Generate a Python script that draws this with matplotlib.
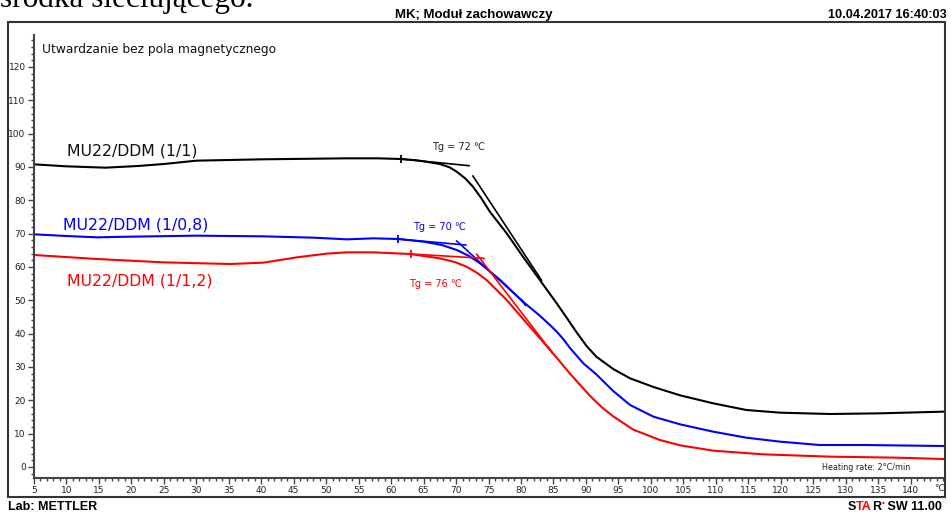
import matplotlib.pyplot as plt
from matplotlib.patches import Rectangle
from matplotlib.ticker import MultipleLocator

# curves: temperature [degC], modulus [MPa]
t_black = [5, 10, 16, 21, 25, 30, 40, 53, 58, 61.5, 64, 66, 67.5, 69, 70.1, 71.4, 72.6, 73.9, 75.2,
           77.8, 80.3, 82.9, 85.5, 87.2, 88.6, 90.1, 91.6, 94.2, 96.8, 100.4, 104.5, 109.6, 114.7,
           119.9, 127.6, 135.3, 145]
v_black = [90.8, 90.2, 89.8, 90.3, 90.9, 91.9, 92.3, 92.6, 92.6, 92.4, 92.0, 91.4, 90.9, 89.9, 88.6, 86.6, 84.1,
           80.6, 76.6, 70.1, 63.1, 56.1, 49.1, 44.3, 40.3, 36.3, 33.1, 29.4, 26.6, 24.0, 21.5, 19.1, 17.1,
           16.3, 15.9, 16.1, 16.6]

t_blue = [5, 10, 14.7, 19.8, 30, 40.3, 48, 53.2, 57.3, 61.1, 65, 67.8, 70.1, 72, 73.7, 76.8, 80.3,
          82.9, 84.5, 85.5, 86.5, 87.5, 89.6, 91.6, 94.2, 96.8, 100.4, 104.5, 109.6, 114.7, 119.9,
          126, 132.7, 145]
v_blue = [69.8, 69.3, 68.9, 69.1, 69.4, 69.2, 68.8, 68.3, 68.6, 68.4, 67.6, 66.6, 65.1, 63.3, 61.1, 56.1, 49.6,
          45.4, 42.5, 40.6, 38.4, 35.8, 31.1, 27.8, 22.8, 18.6, 15.1, 12.8, 10.6, 8.8, 7.6,
          6.6, 6.6, 6.3]

t_red = [5, 14.7, 24.9, 35.2, 40.3, 45.5, 50, 53.2, 57.3, 62.9, 67.5, 69.8, 71.6, 73.2, 74.7, 77.8,
         80.9, 84.5, 87.5, 90.6, 92.4, 94.2, 97.3, 101.4, 104.5, 109.6, 117.3, 127.6, 137.9, 145]
v_red = [63.6, 62.4, 61.4, 60.9, 61.3, 62.9, 64.0, 64.4, 64.4, 63.9, 62.6, 61.5, 60.1, 58.3, 56.1, 50.1,
         43.1, 35.1, 28.1, 21.4, 18.0, 15.2, 11.2, 8.1, 6.5, 4.9, 3.8, 3.1, 2.8, 2.4]

# tangent lines (start, end) for Tg evaluation
tan_black = [([61.5, 72.0], [92.4, 90.4]), ([72.6, 82.8], [87.3, 57.1])]
tan_blue = [([61.1, 71.5], [68.4, 66.6]), ([70.1, 80.3], [67.8, 49.6])]
tan_red = [([63.0, 74.3], [63.9, 62.6]), ([73.2, 84.5], [63.8, 35.1])]

labels = ["MU22/DDM (1/1)", "MU22/DDM (1/0,8)", "MU22/DDM (1/1,2)"]
tg_labels = ["Tg = 72 \u2103", "Tg = 70 \u2103", "Tg = 76 \u2103"]

W, H = 951, 516
fig = plt.figure(figsize=(W / 100, H / 100), dpi=100)
plt.rcParams['font.family'] = ['DejaVu Sans']


def fx(px):
    return px / W


def fy(py):
    return 1 - py / H


ax = fig.add_axes([fx(34), fy(478), fx(945) - fx(34), fy(35) - fy(478)])
ax.set_xlim(5, 145.3)
ax.set_ylim(-3.3, 129.6)

for t, v, c, tans in [(t_black, v_black, 'black', tan_black),
                      (t_blue, v_blue, 'blue', tan_blue),
                      (t_red, v_red, 'red', tan_red)]:
    ax.plot(t, v, color=c, lw=1.5)
    (x1, y1), (x2, y2) = tans
    ax.plot(x1, y1, color=c, lw=1.2)
    ax.plot(x2, y2, color=c, lw=1.2)
    ax.plot(x1[0], y1[0], marker='|', ms=6, mew=1.3, color=c)
    ax.plot(x2[1], y2[1], marker=(2, 0, 35), ms=6, mew=1.3, color=c)

ax.text(5 + (67 - 34) / 6.494, 93.3, labels[0], color='#111111', fontsize=11.3)
ax.text(5 + (63 - 34) / 6.494, 71.3, labels[1], color='blue', fontsize=11.3)
ax.text(5 + (67 - 34) / 6.494, 54.3, labels[2], color='red', fontsize=11.3)
ax.text(66.3, 95.0, tg_labels[0], color='#222222', fontsize=7)
ax.text(63.4, 71.2, tg_labels[1], color='blue', fontsize=7)
ax.text(62.8, 54.0, tg_labels[2], color='red', fontsize=7)
ax.text(6.2, 124.2, "Utwardzanie bez pola magnetycznego", fontsize=8.8, color='#111111')
ax.text(139.9, -1.0, "Heating rate: 2\u00b0C/min", fontsize=5.8, ha='right', color='#222222')

for s in ['top', 'right']:
    ax.spines[s].set_visible(False)
for s in ['left', 'bottom']:
    ax.spines[s].set_color('#444444')
    ax.spines[s].set_linewidth(1.5)

ax.set_xticks(list(range(5, 141, 5)))
ax.set_yticks(list(range(0, 121, 10)))
ax.xaxis.set_minor_locator(MultipleLocator(1))
ax.yaxis.set_minor_locator(MultipleLocator(2))
ax.tick_params(which='major', length=4, width=1, color='#444444', labelsize=6.5, pad=2, labelcolor='#222222')
ax.tick_params(which='minor', length=2.5, width=1, color='#444444')
ax.text(144.5, -5.2, "\u00b0C", fontsize=6.5, ha='center', va='top', color='#222222',
        clip_on=False)
ax.text(-0.3, 128.2, "MPa", fontsize=5.5, ha='right', va='center', color='#222222', clip_on=False)

# outer frame and header / footer texts
fig.patches.append(Rectangle((fx(8), fy(497)), fx(945) - fx(8), fy(22) - fy(497),
                             transform=fig.transFigure, fill=False, ec='#333333', lw=1.5))
fig.text(fx(474), fy(15), "MK; Modu\u0142 zachowawczy", fontsize=9.5, fontweight='bold',
         family='Liberation Sans', ha='center', va='center')
fig.text(fx(947), fy(15), "10.04.2017 16:40:03", fontsize=9.2, fontweight='bold',
         family='Liberation Sans', ha='right', va='center')
fig.text(fx(8), fy(507), "Lab: METTLER", fontsize=9, fontweight='bold',
         family='Liberation Sans', ha='left', va='center')

# "STAR" logo: S and R black, T and A red, red dot
star_parts = [("S", 'black'), ("TA", 'red'), ("R", 'black'), ("\u2022", 'red'), (" SW 11.00", 'black')]
rend = fig.canvas.get_renderer()
x_cur = 848
for txt, col in star_parts:
    yy = 503 if txt == "\u2022" else 507
    fs = 6 if txt == "\u2022" else 9
    tt = fig.text(fx(x_cur + (1 if txt == "\u2022" else 0)), fy(yy), txt, fontsize=fs, fontweight='bold',
                  family='Liberation Sans', ha='left', va='center', color=col)
    x_cur += tt.get_window_extent(rend).width

# page text cut off by the top of the screenshot
fig.text(fx(0), fy(7), "\u015brodka sieciuj\u0105cego.", fontsize=22.5, family='Liberation Serif',
         ha='left', va='baseline')

fig.savefig('out.png', dpi=100)
